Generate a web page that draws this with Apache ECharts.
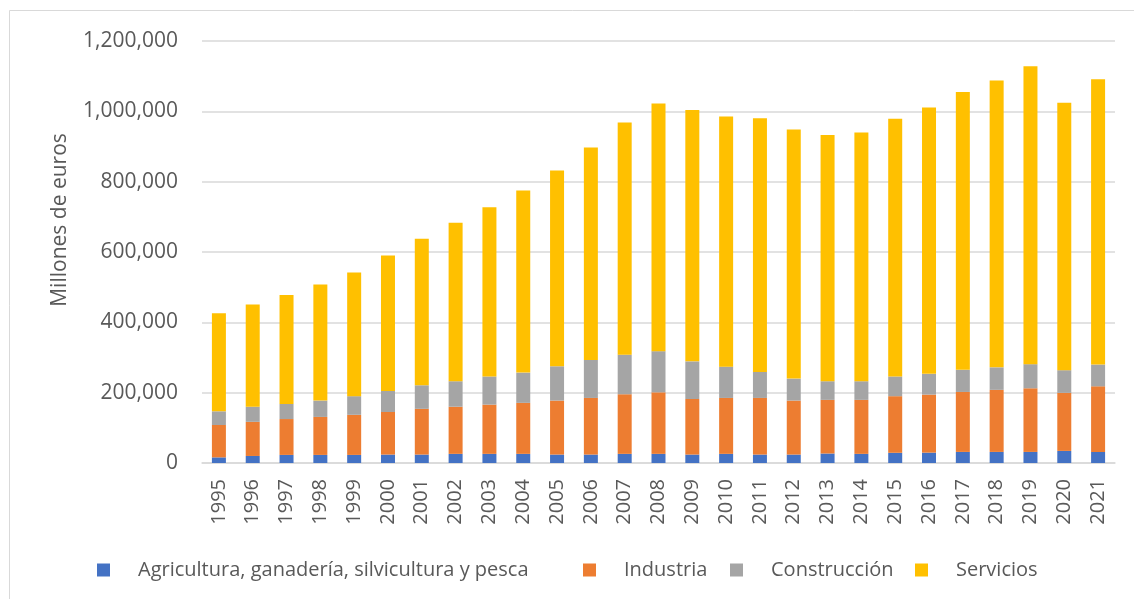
<!DOCTYPE html>
<html>
<head>
<meta charset="utf-8">
<script src="https://cdn.jsdelivr.net/npm/echarts@6/dist/echarts.min.js"></script>
<style>
  html, body { margin: 0; padding: 0; background: #fff; }
  #chart { width: 1134px; height: 599px; }
</style>
</head>
<body>
<div id="chart"></div>
<script>
// Años y valores (millones de euros)
const years = ['1995','1996','1997','1998','1999','2000','2001','2002','2003','2004','2005','2006','2007',
  '2008','2009','2010','2011','2012','2013','2014','2015','2016','2017','2018','2019','2020','2021'];
const agricultura = [16000,20000,23000,23000,23000,24000,24000,26000,26000,26000,24000,24000,26000,
  26000,24000,26000,24000,24000,27000,26000,29000,29500,31500,31500,31500,34400,31500];
const industria = [92000,97000,102000,108000,114000,121000,130000,134000,140000,145000,153500,161000,169500,
  175000,158000,159000,161000,153500,152500,153500,161000,165000,170500,176500,181000,165000,186500];
const construccion = [39000,43000,43000,46500,53000,60000,67000,72500,80000,86000,97500,108000,112500,
  117000,107000,89000,74000,62500,53000,53000,56000,59000,63000,64000,68500,64500,62000];
const servicios = [279000,291000,310000,330000,352000,385000,417000,450500,481500,518000,557000,604000,660000,
  704000,714500,711500,721000,708500,700000,707500,733000,757500,790000,816000,847000,760500,811000];

const seriesNames = ['Agricultura, ganadería, silvicultura y pesca', 'Industria', 'Construcción', 'Servicios'];
const seriesColors = ['#4472C4', '#ED7D31', '#A5A5A5', '#FFC000'];
const seriesData = [agricultura, industria, construccion, servicios];
const legendLefts = [92, 578, 725, 910];

const textColor = '#595959';
const font = 'Open Sans';

let chart = echarts.init(document.getElementById('chart'));
let options = {
  backgroundColor: '#fff',
  animation: false,
  textStyle: {fontFamily: font, color: textColor},
  graphic: [
    {
      type: 'rect',
      shape: {x: 9.5, y: 10.5, width: 1200, height: 700},
      style: {fill: 'none', stroke: '#d9d9d9', lineWidth: 1},
      silent: true
    },
    {
      type: 'text',
      x: 60, y: 220,
      rotation: Math.PI / 2,
      style: {
        text: 'Millones de euros',
        fill: textColor,
        font: '21px "Open Sans"',
        align: 'center',
        verticalAlign: 'middle'
      }
    }
  ],
  // una leyenda por serie, para colocar cada elemento como en el original
  legend: seriesNames.map((name, i) => ({
    left: legendLefts[i],
    top: 555,
    icon: 'rect',
    itemWidth: 13,
    itemHeight: 13,
    textStyle: {fontFamily: font, fontSize: 20, color: textColor, padding: [0, 0, 0, 23]},
    data: [name]
  })),
  grid: {left: 202, right: 19, top: 41, bottom: 136},
  xAxis: {
    type: 'category',
    data: years,
    axisLine: {lineStyle: {color: '#d9d9d9', width: 1.5}},
    axisTick: {show: false},
    axisLabel: {rotate: 90, fontSize: 20, color: textColor, fontFamily: font, margin: 16, interval: 0}
  },
  yAxis: {
    type: 'value',
    min: 0,
    max: 1200000,
    interval: 200000,
    axisLine: {show: false},
    axisTick: {show: false},
    splitLine: {lineStyle: {color: '#d9d9d9', width: 1.5}},
    axisLabel: {
      fontSize: 21, color: textColor, fontFamily: font, margin: 24,
      formatter: v => v.toLocaleString('en-US')
    }
  },
  series: seriesNames.map((name, i) => ({
    name: name,
    type: 'bar',
    stack: 'total',
    barWidth: 14,
    itemStyle: {color: seriesColors[i]},
    data: seriesData[i]
  }))
};
chart.setOption(options);
</script>
</body>
</html>
